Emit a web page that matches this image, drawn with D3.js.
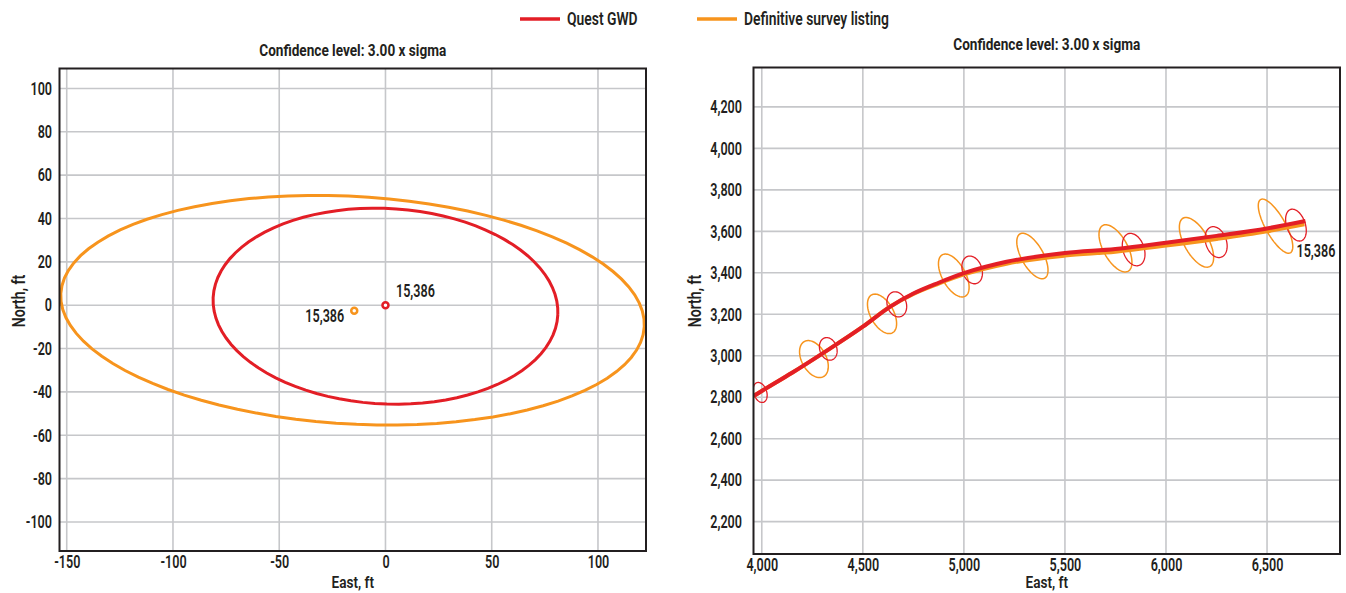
<!DOCTYPE html>
<html>
<head>
<meta charset="utf-8">
<script src="https://cdn.jsdelivr.net/npm/d3@7"></script>
<style>
    body { margin: 0; background: #ffffff; }
    text { font-family: Roboto, "DejaVu Sans", sans-serif; fill: #231f20; }
</style>
</head>
<body>
<div id="canvas"></div>
<script>
"use strict"

/* series names and colours */
let seriesNames = ["Quest GWD", "Definitive survey listing"];
let seriesColors = ["#e31e26", "#f7941d"];
let pointLabel = "15,386";
let titleText = "Confidence level: 3.00 x sigma";

/* left chart: ellipses around the 15,386 ft station (east, north in ft) */
let leftTicksX = [-150, -100, -50, 0, 50, 100];
let leftTicksY = [-100, -80, -60, -40, -20, 0, 20, 40, 60, 80, 100];
let leftPointEast = [0, -14.7];
let leftPointNorth = [0, -2.6];
let leftEllEast = [0, -15.5];
let leftEllNorth = [-0.45, -2.3];
let leftEllSemiEast = [81.2, 137.5];
let leftEllSemiNorth = [45.1, 52.5];
let leftEllTilt = [-2.8, -3.2];

/* right chart: well path plan view */
let rightTicksX = [4000, 4500, 5000, 5500, 6000, 6500];
let rightTicksY = [2200, 2400, 2600, 2800, 3000, 3200, 3400, 3600, 3800, 4000, 4200];

let gwdPathEast = [3960, 4000, 4150, 4305, 4500, 4634, 4750, 4875, 5000, 5211, 5500, 5750, 6000, 6250, 6500, 6690];
let gwdPathNorth = [2806, 2830, 2918, 3014, 3140, 3236, 3300, 3352, 3398, 3453, 3495, 3515, 3545, 3578, 3614, 3650];
let defPathEast = [3960, 4000, 4150, 4305, 4500, 4634, 4750, 4875, 5000, 5211, 5500, 5750, 6000, 6250, 6500, 6685];
let defPathNorth = [2806, 2830, 2918, 3014, 3140, 3236, 3298, 3348, 3392, 3444, 3483, 3502, 3531, 3563, 3600, 3634];

/* error ellipses along the path: centre, semi-axis across, semi-axis along, tilt (deg) */
let gwdEllEast = [3992, 4329, 4668, 5041, 5840, 6248, 6643];
let gwdEllNorth = [2823, 3033, 3248, 3414, 3512, 3548, 3630];
let gwdEllMinor = [32, 42, 47, 48, 52, 51, 46];
let gwdEllMajor = [50, 56, 62, 69, 81, 77, 80];
let gwdEllTilt = 20;

let defEllEast = [4258, 4595, 4950, 5339, 5750, 6151, 6542];
let defEllNorth = [2984, 3202, 3387, 3481, 3518, 3547, 3625];
let defEllMinor = [60, 57, 57, 54, 59, 60, 49];
let defEllMajor = [97, 105, 115, 123, 127, 134, 148];
let defEllTilt = 30;

/* set up the drawing canvas */
let drawing = d3.select("#canvas")
    .append("svg")
    .attr("width", 1346)
    .attr("height", 593);

/* the reference uses a very narrow typeface, so text is squeezed sideways */
function addText(x, y, str, size, squeeze, anchor, rotate) {
    return drawing.append("text")
        .attr("transform", "translate(" + x + "," + y + ")" + (rotate ? " rotate(" + rotate + ")" : "") + " scale(" + squeeze + ",1)")
        .attr("text-anchor", anchor)
        .attr("font-size", size)
        .style("font-weight", 600)
        .text(str);
}

/* ellipse outline as a list of [east, north] points */
function ellipsePoints(cx, cy, semiX, semiY, tiltDeg) {
    let th = tiltDeg * Math.PI / 180;
    return d3.range(0, 361, 4).map(function (d) {
        let t = d * Math.PI / 180;
        let ex = semiX * Math.cos(t);
        let ny = semiY * Math.sin(t);
        return [cx + ex * Math.cos(th) - ny * Math.sin(th), cy + ex * Math.sin(th) + ny * Math.cos(th)];
    });
}

/* draws grid, tick labels and axis titles, returns the scales */
function makePanel(id, box, xDomain, yDomain, xTicks, yTicks, fmt, labelGap, titleY, northX) {
    let x = d3.scaleLinear().domain(xDomain).range([box.left, box.right]);
    let y = d3.scaleLinear().domain(yDomain).range([box.bottom, box.top]);
    let sq = 0.7;

    drawing.append("clipPath")
        .attr("id", id)
        .append("rect")
        .attr("x", box.left)
        .attr("y", box.top)
        .attr("width", box.right - box.left)
        .attr("height", box.bottom - box.top);

    /* grid lines */
    drawing.append("g")
        .selectAll("line")
        .data(xTicks)
        .join("line")
        .attr("x1", d => x(d))
        .attr("x2", d => x(d))
        .attr("y1", box.top)
        .attr("y2", box.bottom)
        .attr("stroke", "#c6c7ca")
        .attr("stroke-width", 1.6);

    drawing.append("g")
        .selectAll("line")
        .data(yTicks)
        .join("line")
        .attr("x1", box.left)
        .attr("x2", box.right)
        .attr("y1", d => y(d))
        .attr("y2", d => y(d))
        .attr("stroke", "#c6c7ca")
        .attr("stroke-width", 1.6);

    /* axes with labels only */
    let xAxis = drawing.append("g")
        .attr("transform", "translate(0," + box.bottom + ")")
        .call(d3.axisBottom(x).tickValues(xTicks).tickFormat(fmt).tickSize(0).tickPadding(4));
    let yAxis = drawing.append("g")
        .attr("transform", "translate(" + box.left + ",0)")
        .call(d3.axisLeft(y).tickValues(yTicks).tickFormat(fmt).tickSize(0).tickPadding(labelGap));
    [xAxis, yAxis].forEach(function (ax) {
        ax.select(".domain").remove();
        ax.selectAll("text")
            .attr("font-size", 18)
            .attr("font-family", null)
            .attr("fill", null)
            .style("font-weight", 600)
            .attr("transform", "scale(" + sq + ",1)");
    });
    yAxis.selectAll("text").attr("x", -labelGap / sq);

    /* titles */
    addText((box.left + box.right) / 2, titleY, titleText, 17, 0.8, "middle")
        .style("font-weight", 700);
    addText((box.left + box.right) / 2, 588, "East, ft", 17, 0.8, "middle");
    addText(northX, 301, "North, ft", 18, 0.78, "middle", -90);

    return { x: x, y: y, box: box };
}

function drawFrame(box) {
    drawing.append("rect")
        .attr("x", box.left)
        .attr("y", box.top)
        .attr("width", box.right - box.left)
        .attr("height", box.bottom - box.top)
        .attr("fill", "none")
        .attr("stroke", "#231f20")
        .attr("stroke-width", 2);
}

/* ---------- legend ---------- */
let legendX = [520, 697];
seriesNames.forEach(function (name, i) {
    drawing.append("line")
        .attr("x1", legendX[i])
        .attr("x2", legendX[i] + 40)
        .attr("y1", 19)
        .attr("y2", 19)
        .attr("stroke", seriesColors[i])
        .attr("stroke-width", 3.5);
    addText(legendX[i] + 47, 25, name, 19, 0.73, "start");
});

/* ---------- left chart ---------- */
let left = makePanel("clipLeft", { left: 59.5, right: 646, top: 68.5, bottom: 551 },
    [-153.4, 122.6], [-113.4, 109.2], leftTicksX, leftTicksY, d => String(d), 7.5, 56, 25);

let leftLine = d3.line().x(d => left.x(d[0])).y(d => left.y(d[1]));
let leftPlot = drawing.append("g").attr("clip-path", "url(#clipLeft)");

[1, 0].forEach(function (i) {
    leftPlot.append("path")
        .attr("d", leftLine(ellipsePoints(leftEllEast[i], leftEllNorth[i], leftEllSemiEast[i], leftEllSemiNorth[i], leftEllTilt[i])))
        .attr("fill", "none")
        .attr("stroke", seriesColors[i])
        .attr("stroke-width", 3);
});

[1, 0].forEach(function (i) {
    leftPlot.append("circle")
        .attr("cx", left.x(leftPointEast[i]))
        .attr("cy", left.y(leftPointNorth[i]))
        .attr("r", 3)
        .attr("fill", "#ffffff")
        .attr("stroke", seriesColors[i])
        .attr("stroke-width", 2.5);
});

addText(left.x(leftPointEast[0]) + 10.5, left.y(leftPointNorth[0]) - 8, pointLabel, 18, 0.7, "start");
addText(left.x(leftPointEast[1]) - 10, left.y(leftPointNorth[1]) + 11, pointLabel, 18, 0.7, "end");

drawFrame(left.box);

/* ---------- right chart ---------- */
let right = makePanel("clipRight", { left: 753.5, right: 1340, top: 67.5, bottom: 554 },
    [3959, 6861], [2044, 4390], rightTicksX, rightTicksY, d3.format(","), 11.5, 50, 701);

let rightLine = d3.line().x(d => right.x(d[0])).y(d => right.y(d[1]));
let pathLine = d3.line().curve(d3.curveMonotoneX).x(d => right.x(d[0])).y(d => right.y(d[1]));
let rightPlot = drawing.append("g").attr("clip-path", "url(#clipRight)");

/* error ellipses */
defEllEast.forEach(function (e, i) {
    rightPlot.append("path")
        .attr("d", rightLine(ellipsePoints(e, defEllNorth[i], defEllMinor[i], defEllMajor[i], defEllTilt)))
        .attr("fill", "none")
        .attr("stroke", seriesColors[1])
        .attr("stroke-width", 1.5);
});
gwdEllEast.forEach(function (e, i) {
    rightPlot.append("path")
        .attr("d", rightLine(ellipsePoints(e, gwdEllNorth[i], gwdEllMinor[i], gwdEllMajor[i], gwdEllTilt)))
        .attr("fill", "none")
        .attr("stroke", seriesColors[0])
        .attr("stroke-width", 1.3);
});

/* well paths */
rightPlot.append("path")
    .attr("d", pathLine(defPathEast.map((e, i) => [e, defPathNorth[i]])))
    .attr("fill", "none")
    .attr("stroke", seriesColors[1])
    .attr("stroke-width", 4);

rightPlot.append("path")
    .attr("d", pathLine(gwdPathEast.map((e, i) => [e, gwdPathNorth[i]])))
    .attr("fill", "none")
    .attr("stroke", seriesColors[0])
    .attr("stroke-width", 4);

addText(right.x(gwdPathEast[gwdPathEast.length - 1]) - 9, right.y(gwdPathNorth[gwdPathNorth.length - 1]) + 36, pointLabel, 18, 0.7, "start");

drawFrame(right.box);
</script>
</body>
</html>
